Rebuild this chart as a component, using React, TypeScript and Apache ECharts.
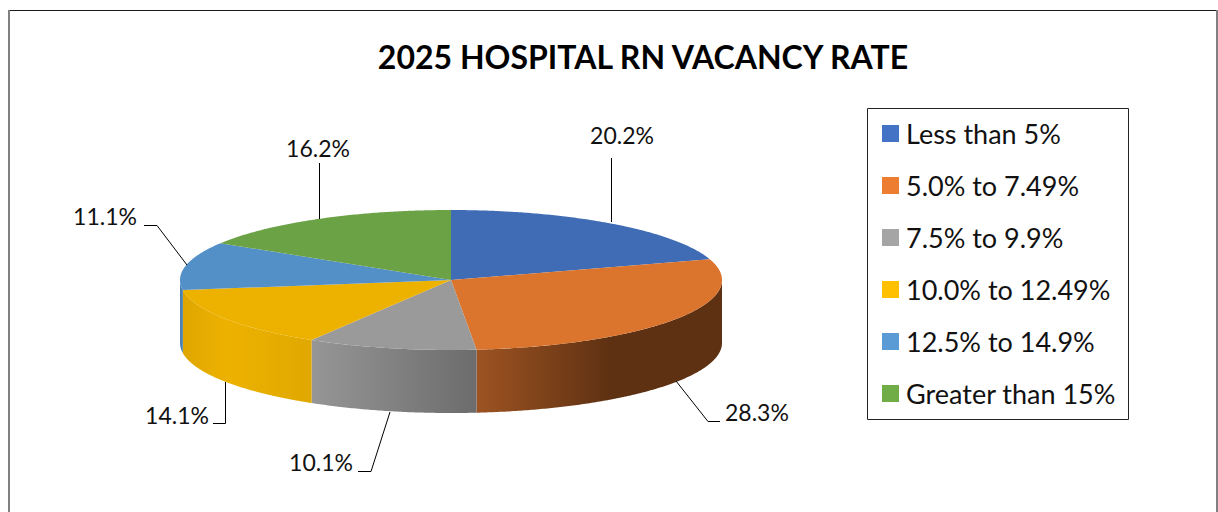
import React, { useEffect, useRef } from "react";
import * as echarts from "echarts";

const titleText = "2025 HOSPITAL RN VACANCY RATE";
const categories = ["Less than 5%", "5.0% to 7.49%", "7.5% to 9.9%", "10.0% to 12.49%", "12.5% to 14.9%", "Greater than 15%"];
const values = [20.2, 28.3, 10.1, 14.1, 11.1, 16.2];
const legendColors = ["#4472C4", "#ED7D31", "#A5A5A5", "#FFC000", "#5B9BD5", "#70AD47"];
const topColors = ["#3F6CB5", "#DB742C", "#9A9A9A", "#EDB200", "#5490C8", "#6AA245"];
const FONT = "Lato";

const sideStops: [number, string][][] = [
  [[0, "#3F6CB5"], [1, "#3F6CB5"]],
  [[0, "#9D5322"], [0.55, "#5E3112"], [1, "#5E3112"]],
  [[0, "#969696"], [1, "#6C6C6C"]],
  [[0, "#DFA600"], [0.35, "#EDB200"], [1, "#E0A800"]],
  [[0, "#4A80B0"], [1, "#4A80B0"]],
  [[0, "#6AA245"], [1, "#6AA245"]],
];

// leader line + label layout (pixels)
const leaders: number[][][] = [
  [[611.5, 222], [611.5, 158]],
  [[676, 381], [708, 421.5], [720, 421.5]],
  [[390, 412], [371, 471.5], [358, 471.5]],
  [[225.5, 382], [225.5, 423.5], [213, 423.5]],
  [[187, 265], [157, 225.5], [144, 225.5]],
  [[319.5, 219], [319.5, 163]],
];
const labelAnchors: { x: number; y: number; align: string }[] = [
  { x: 622, y: 135, align: "center" },
  { x: 725, y: 412, align: "left" },
  { x: 353, y: 462, align: "right" },
  { x: 209, y: 415, align: "right" },
  { x: 137, y: 216, align: "right" },
  { x: 318, y: 148, align: "center" },
];

const CX = 451, CY = 280, RX = 271, RY = 70, DEPTH = 63;
const total = values.reduce((a, b) => a + b, 0);

const pt = (deg: number, dy = 0) => {
  const r = (deg * Math.PI) / 180;
  return [CX + RX * Math.sin(r), CY - RY * Math.cos(r) + dy];
};
const arc = (a: number, b: number, dy = 0) => {
  const pts: number[][] = [];
  const n = Math.max(2, Math.ceil(Math.abs(b - a) * 2));
  for (let i = 0; i <= n; i++) pts.push(pt(a + ((b - a) * i) / n, dy));
  return pts;
};

const makeRender = (idx: number) => (_params: any, api: any) => {
  const v = api.value(0);
  const before = values.slice(0, idx).reduce((a, b) => a + b, 0);
  const a0 = (before / total) * 360;
  const a1 = a0 + (v / total) * 360;
  const children: any[] = [];
  const s0 = Math.max(a0, 90), s1 = Math.min(a1, 270);
  if (s1 > s0) {
    const topArc = arc(s0, s1);
    const botArc = arc(s1, s0, DEPTH);
    children.push({
      type: "polygon",
      shape: { points: [...topArc, ...botArc] },
      style: {
        fill: {
          type: "linear", x: 0, y: 0, x2: 1, y2: 0,
          colorStops: sideStops[idx].map(([offset, color]) => ({ offset, color })),
        },
      },
    });
  }
  children.push({
    type: "polygon",
    shape: { points: [[CX, CY], ...arc(a0, a1)] },
    style: { fill: topColors[idx] },
  });
  children.push({
    type: "polyline",
    shape: { points: leaders[idx] },
    style: { stroke: "#000", lineWidth: 1, fill: "none" },
    z2: 5,
  });
  const l = labelAnchors[idx];
  children.push({
    type: "text",
    x: l.x, y: l.y,
    style: {
      text: v.toFixed(1) + "%",
      fontFamily: FONT, fontSize: 23, fill: "#111",
      align: l.align, verticalAlign: "middle",
    },
    z2: 5,
  });
  return { type: "group", children };
};

export default function App() {
  const ref = useRef<HTMLDivElement>(null);
  useEffect(() => {
    const chart = echarts.init(ref.current!, null, { renderer: "svg" });
    chart.setOption({
      animation: false,
      backgroundColor: "#fff",
      title: {
        text: titleText, left: 638, top: 51, textAlign: "center", textVerticalAlign: "middle",
        textStyle: { fontFamily: FONT, fontSize: 32, fontWeight: "bold", color: "#000" },
      },
      legend: {
        orient: "vertical", left: 882, top: 120, padding: 0,
        itemWidth: 17, itemHeight: 17, itemGap: 25, icon: "rect", selectedMode: false,
        data: categories,
        textStyle: { fontFamily: FONT, fontSize: 27, lineHeight: 27, color: "#111", padding: [0, 0, 0, 2] },
      },
      graphic: [
        { type: "line", silent: true, shape: { x1: 8, y1: 10.5, x2: 1218, y2: 10.5 }, style: { stroke: "#1a1a1a", lineWidth: 1 } },
        { type: "line", silent: true, shape: { x1: 9, y1: 10, x2: 9, y2: 512 }, style: { stroke: "#808080", lineWidth: 2 } },
        { type: "line", silent: true, shape: { x1: 1217, y1: 10, x2: 1217, y2: 512 }, style: { stroke: "#808080", lineWidth: 2 } },
        { type: "rect", silent: true, shape: { x: 867.5, y: 108.5, width: 261, height: 311 }, style: { fill: "none", stroke: "#222", lineWidth: 1 } },
      ],
      series: categories.map((name, i) => ({
        type: "custom",
        name,
        coordinateSystem: "none",
        itemStyle: { color: legendColors[i] },
        renderItem: makeRender(i),
        data: [[values[i]]],
        silent: true,
      })),
    });
    return () => chart.dispose();
  }, []);
  return <div ref={ref} style={{ position: "absolute", left: 0, top: 0, width: 1218, height: 512 }} />;
}
